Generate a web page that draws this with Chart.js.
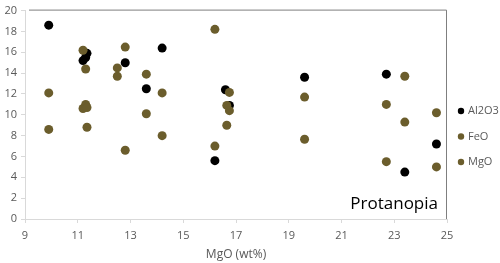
<!DOCTYPE html>
<html>
<head>
<meta charset="utf-8">
<script src="https://cdn.jsdelivr.net/npm/chart.js@4"></script>
<style>
  html, body { margin: 0; padding: 0; background: #fff; }
  #wrap { width: 500px; height: 263px; }
</style>
</head>
<body>
<div id="wrap"><canvas id="chart"></canvas></div>
<script>
// valeurs
const al2o3X = [9.9, 11.2, 11.3, 11.35, 12.8, 13.6, 14.2, 16.2, 16.6, 16.75, 19.6, 22.7, 23.4, 24.6];
const al2o3Y = [18.6, 15.2, 15.5, 15.9, 15.0, 12.5, 16.4, 5.6, 12.4, 10.9, 13.6, 13.9, 4.5, 7.2];
const oxydeX = [9.9, 11.2, 11.3, 11.35, 12.5, 12.8, 13.6, 14.2, 16.2, 16.65, 16.75, 19.6, 22.7, 23.4, 24.6];
const feoY = [8.6, 10.6, 11.0, 8.8, 13.7, 6.6, 10.1, 8.0, 7.0, 9.0, 10.4, 7.65, 5.5, 9.3, 5.0];
const mgoY = [12.1, 16.2, 14.4, 10.7, 14.5, 16.5, 13.9, 12.1, 18.2, 10.9, 12.15, 11.7, 11.0, 13.7, 10.2];
const xTicks = [9, 11, 13, 15, 17, 19, 21, 23, 25];

const olive = '#6b5d2c';
const fontFamily = '"Open Sans", sans-serif';

function points(xs, ys) {
    return xs.map((x, i) => ({ x: x, y: ys[i] }));
}

// Bordure haut/droite, texte et légende
const decor = {
    id: 'decor',
    afterDraw(chart) {
        const { ctx, chartArea: a } = chart;
        ctx.save();
        ctx.strokeStyle = '#7f7f7f';
        ctx.lineWidth = 1;
        ctx.beginPath();
        ctx.moveTo(a.left + 4, a.top - 0.5);
        ctx.lineTo(a.right - 0.5, a.top - 0.5);
        ctx.lineTo(a.right - 0.5, a.bottom);
        ctx.stroke();

        ctx.fillStyle = '#000';
        ctx.font = '17px ' + fontFamily;
        ctx.textAlign = 'right';
        ctx.textBaseline = 'alphabetic';
        ctx.fillText('Protanopia', a.right - 9, a.bottom - 10);

        ctx.font = '11px ' + fontFamily;
        ctx.textAlign = 'left';
        ctx.textBaseline = 'middle';
        chart.data.datasets.forEach((ds, i) => {
            const y = 111 + i * 25.5;
            ctx.fillStyle = ds.backgroundColor;
            ctx.beginPath();
            ctx.arc(461, y, 3.2, 0, Math.PI * 2);
            ctx.fill();
            ctx.fillStyle = '#595959';
            ctx.fillText(ds.label, 468, y);
        });
        ctx.restore();
    }
};

new Chart(document.getElementById('chart'), {
    type: 'scatter',
    data: {
        datasets: [
            { label: 'Al2O3', data: points(al2o3X, al2o3Y), backgroundColor: '#000000', order: 3 },
            { label: 'FeO', data: points(oxydeX, feoY), backgroundColor: olive, order: 2 },
            { label: 'MgO', data: points(oxydeX, mgoY), backgroundColor: olive, order: 1 }
        ]
    },
    options: {
        responsive: true,
        maintainAspectRatio: false,
        animation: false,
        layout: { padding: { top: 7, right: 53, left: 0, bottom: 0 } },
        elements: { point: { radius: 4.5, borderWidth: 0, hoverRadius: 4.5 } },
        plugins: { legend: { display: false }, tooltip: { enabled: false } },
        scales: {
            x: {
                type: 'linear',
                min: 9,
                max: 25,
                afterBuildTicks: (scale) => { scale.ticks = xTicks.map(v => ({ value: v })); },
                afterFit: (scale) => { scale.height = 44; },
                ticks: { color: '#595959', font: { family: fontFamily, size: 11 }, padding: 6 },
                grid: { drawOnChartArea: false, drawTicks: true, tickLength: 4, color: '#d9d9d9' },
                border: { display: true, color: '#d9d9d9' },
                title: { display: true, text: 'MgO (wt%)', color: '#595959', font: { family: fontFamily, size: 12 }, padding: { top: 4, bottom: 1 } }
            },
            y: {
                min: 0,
                max: 20,
                afterFit: (scale) => { scale.width = 25; },
                ticks: { stepSize: 2, color: '#595959', font: { family: fontFamily, size: 11 }, padding: 4 },
                grid: { drawOnChartArea: false, drawTicks: true, tickLength: 4, color: '#d9d9d9' },
                border: { display: true, color: '#d9d9d9' }
            }
        }
    },
    plugins: [decor]
});
</script>
</body>
</html>
